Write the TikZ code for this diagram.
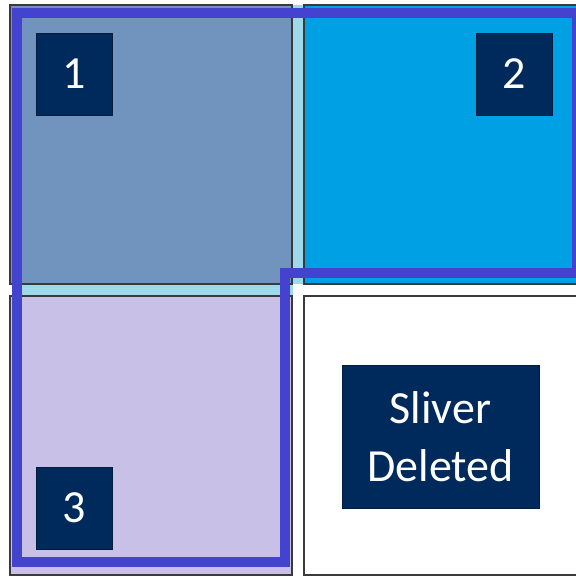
\documentclass[tikz,border=0pt]{standalone}
\usepackage{fontspec}
\setmainfont{Carlito}
\definecolor{tileslate}{HTML}{7094BE}
\definecolor{tilecyan}{HTML}{00A1E4}
\definecolor{tilelilac}{HTML}{C8C0E6}
\definecolor{sliverblue}{HTML}{9DD9EA}
\definecolor{outlineblue}{HTML}{4343D0}
\definecolor{labelnavy}{HTML}{002A5C}
\definecolor{tileedge}{HTML}{3A3A3A}

\begin{document}
\begin{tikzpicture}[
  x=1pt, y=-1pt,
  tile/.style={draw=tileedge, line width=1.5pt},
  labelbox/.style={fill=labelnavy, draw=labelnavy!70!black, line width=0.8pt, text=white,
    align=center, inner sep=0pt, font=\fontsize{46}{58}\selectfont},
  numbox/.style={labelbox, minimum width=76pt, minimum height=82pt}
]
\useasboundingbox (0,0) rectangle (575,577);

% The four tiles
\filldraw[tile, fill=tileslate] (10,5) rectangle (292,284);
\filldraw[tile, fill=tilecyan] (304,5) rectangle (582,284);
\filldraw[tile, fill=tilelilac] (10,296) rectangle (292,575);
\filldraw[tile, fill=white] (304,296) rectangle (582,575);

% Sliver between the tiles
\fill[sliverblue] (293,5) rectangle (303,284);
\fill[sliverblue] (12,285) rectangle (293,295);

% Thick outline round tiles 1, 2 and 3
\draw[outlineblue, line width=10pt, line join=miter]
(17,13) -- (577,13) -- (577,273) -- (285,273) -- (285,562) -- (17,562) -- cycle;

% Number labels
\node[numbox] (one) at (74,74) {1};
\node[numbox] (two) at (514.5,74) {2};
\node[numbox] (three) at (74,508) {3};

% Label of the deleted sliver
\node[labelbox, minimum width=197pt, minimum height=143pt] (deleted) at (440.5,436.5) {Sliver\\Deleted};

\end{tikzpicture}
\end{document}
